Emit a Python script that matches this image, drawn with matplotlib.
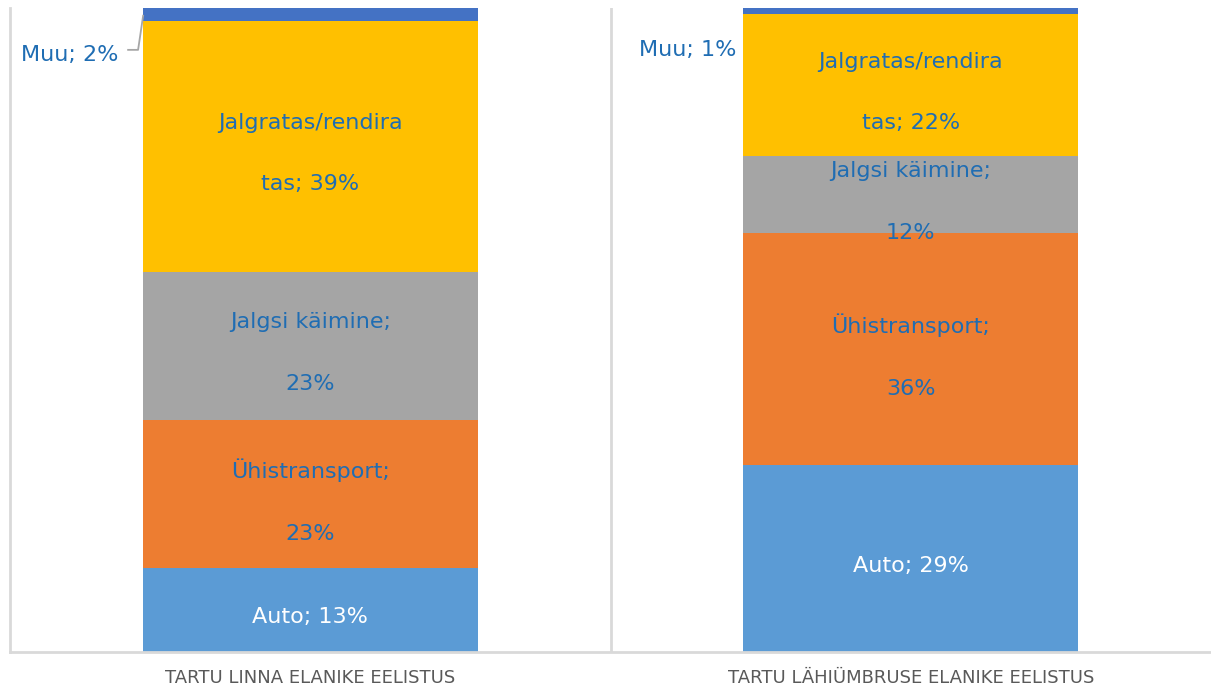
import numpy as np
from matplotlib import pyplot as plt

plt.rcParams['font.family'] = ['DejaVu Sans']

groups = ["TARTU LINNA ELANIKE EELISTUS", "TARTU LÄHIÜMBRUSE ELANIKE EELISTUS"]
modes = ["Auto", "Ühistransport", "Jalgsi käimine", "Jalgratas/rendiratas", "Muu"]
auto = [13, 29]
yhis = [23, 36]
jalgsi = [23, 12]
jalgratas = [39, 22]
muu = [2, 1]

label_texts = {
    "Auto": ["Auto; {}%", "Auto; {}%"],
    "Ühistransport": ["Ühistransport;\n{}%", "Ühistransport;\n{}%"],
    "Jalgsi käimine": ["Jalgsi käimine;\n{}%", "Jalgsi käimine;\n{}%"],
    "Jalgratas/rendiratas": ["Jalgratas/rendira\ntas; {}%", "Jalgratas/rendira\ntas; {}%"],
}

colors = ["#5B9BD5", "#ED7D31", "#A5A5A5", "#FFC000", "#4472C4"]
text_blue = "#1F6DB3"
grid_gray = "#D9D9D9"

fig = plt.figure(figsize=(12.11, 6.87), dpi=100)
ax = fig.add_axes([10 / 1211, 35 / 687, 1201 / 1211, 644 / 687])

x = np.arange(len(groups))
series = [auto, yhis, jalgsi, jalgratas, muu]
bottom = np.zeros(len(groups))
for name, vals, col in zip(modes, series, colors):
    vals = np.array(vals, dtype=float)
    ax.bar(x, vals, 0.558, bottom=bottom, color=col, linewidth=0)
    if name in label_texts:
        for i in range(len(groups)):
            txt = label_texts[name][i].format(int(vals[i]))
            tcol = "white" if name == "Auto" else text_blue
            ax.text(x[i], bottom[i] + vals[i] / 2 - 1.1, txt, ha="center", va="center",
                    fontsize=16, color=tcol, linespacing=3.6)
    bottom += vals

# "Muu" labels placed outside the bars
ax.text(-0.4, 92.7, "Muu; {}%".format(muu[0]), ha="center", va="center", fontsize=16, color=text_blue)
ax.plot([-0.3033, -0.2867, -0.2783], [93.5, 93.5, 98.8], color="#A6A6A6", linewidth=1.3, clip_on=False)
ax.text(0.628, 93.5, "Muu; {}%".format(muu[1]), ha="center", va="center", fontsize=16, color=text_blue)

ax.set_xlim(-0.5, 1.5)
ax.set_ylim(0, 100)
ax.axvline(0.5, color=grid_gray, linewidth=2)
ax.set_xticks(x)
ax.set_xticklabels(groups, fontsize=13, color="#595959")
ax.tick_params(axis="x", length=0, pad=12)
ax.set_yticks([])
for s in ["top", "right"]:
    ax.spines[s].set_visible(False)
for s in ["left", "bottom"]:
    ax.spines[s].set_color(grid_gray)
    ax.spines[s].set_linewidth(2)

fig.savefig("out.png", dpi=100)
